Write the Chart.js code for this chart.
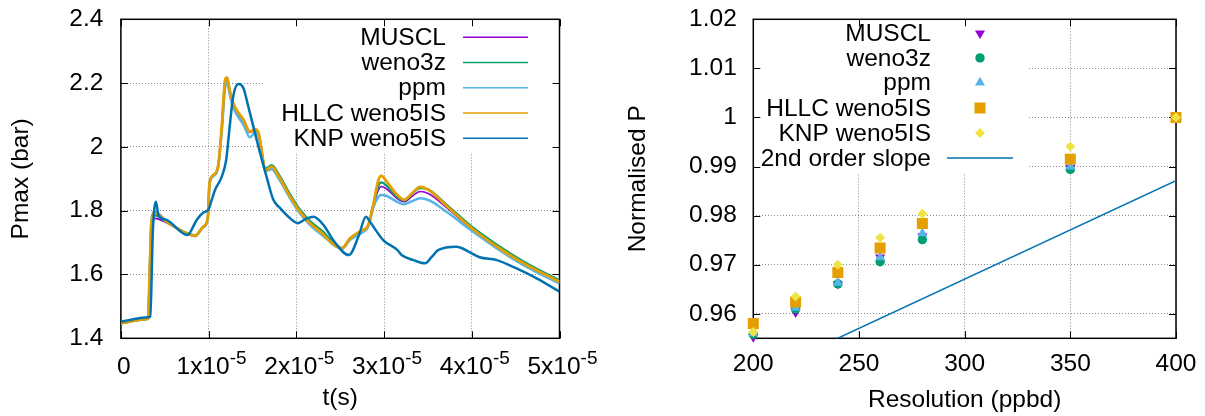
<!DOCTYPE html>
<html><head><meta charset="utf-8">
<script src="https://cdn.jsdelivr.net/npm/chart.js@4/dist/chart.umd.min.js"></script>
<style>
html,body{margin:0;padding:0;background:#fff;width:1205px;height:416px;overflow:hidden}
canvas{position:absolute;top:0}
#c1{left:0}
#c2{left:600px}
</style></head><body>
<canvas id="c1" width="600" height="416"></canvas>
<canvas id="c2" width="605" height="416"></canvas>
<script>
// ---------- Left panel data (t in units of 1e-5 s, Pmax in bar) ----------
const seriesNamesL = ['MUSCL', 'weno3z', 'ppm', 'HLLC weno5IS', 'KNP weno5IS'];
const tMain = [0, 0.29, 0.31, 0.33, 0.35, 0.39, 0.52, 0.75, 0.845, 0.94, 0.99, 1.01, 1.055, 1.11, 1.15, 1.19, 1.21, 1.24, 1.28, 1.40, 1.47, 1.53, 1.57, 1.65, 1.72, 1.80, 1.93, 2.04, 2.16, 2.31, 2.38, 2.45, 2.52, 2.61, 2.69, 2.76, 2.82, 2.88, 2.935, 2.97, 3.03, 3.15, 3.23, 3.32, 3.41, 3.51, 3.72, 4.0, 4.29, 4.59, 5.0];
const pMUSCL = [1.447, 1.46, 1.462, 1.62, 1.765, 1.776, 1.762, 1.728, 1.721, 1.75, 1.776, 1.884, 1.91, 1.942, 2.06, 2.205, 2.212, 2.175, 2.134, 2.08, 2.045, 2.052, 2.04, 1.927, 1.936, 1.905, 1.843, 1.796, 1.76, 1.725, 1.705, 1.69, 1.682, 1.712, 1.728, 1.738, 1.752, 1.815, 1.865, 1.876, 1.868, 1.838, 1.828, 1.845, 1.86, 1.853, 1.808, 1.742, 1.685, 1.633, 1.575];
const pWeno3z = [1.447, 1.46, 1.463, 1.625, 1.77, 1.785, 1.764, 1.73, 1.723, 1.75, 1.776, 1.886, 1.912, 1.943, 2.062, 2.21, 2.216, 2.177, 2.136, 2.083, 2.047, 2.054, 2.042, 1.932, 1.943, 1.914, 1.851, 1.804, 1.767, 1.733, 1.712, 1.693, 1.683, 1.712, 1.728, 1.738, 1.754, 1.82, 1.878, 1.889, 1.878, 1.843, 1.832, 1.853, 1.871, 1.866, 1.817, 1.75, 1.693, 1.641, 1.581];
const pPpm = [1.447, 1.46, 1.463, 1.62, 1.775, 1.797, 1.766, 1.729, 1.72, 1.748, 1.772, 1.88, 1.908, 1.938, 2.05, 2.19, 2.203, 2.165, 2.124, 2.068, 2.03, 2.045, 2.033, 1.924, 1.93, 1.9, 1.838, 1.792, 1.754, 1.72, 1.703, 1.688, 1.68, 1.708, 1.722, 1.733, 1.75, 1.812, 1.843, 1.849, 1.846, 1.828, 1.82, 1.83, 1.839, 1.833, 1.795, 1.737, 1.681, 1.629, 1.571];
const pHLLC = [1.447, 1.46, 1.463, 1.625, 1.771, 1.792, 1.766, 1.729, 1.721, 1.75, 1.776, 1.886, 1.912, 1.943, 2.063, 2.212, 2.218, 2.178, 2.137, 2.084, 2.048, 2.055, 2.043, 1.928, 1.938, 1.907, 1.844, 1.797, 1.76, 1.725, 1.705, 1.69, 1.682, 1.713, 1.729, 1.739, 1.755, 1.823, 1.896, 1.909, 1.891, 1.849, 1.834, 1.855, 1.875, 1.865, 1.813, 1.745, 1.687, 1.635, 1.577];
const tKnp = [0, 0.31, 0.335, 0.365, 0.40, 0.427, 0.52, 0.758, 0.864, 0.94, 1.0, 1.035, 1.073, 1.15, 1.20, 1.244, 1.28, 1.34, 1.397, 1.453, 1.548, 1.66, 1.738, 1.815, 1.91, 2.015, 2.12, 2.195, 2.31, 2.42, 2.6, 2.707, 2.794, 2.84, 2.99, 3.15, 3.2, 3.335, 3.467, 3.543, 3.62, 3.825, 3.995, 4.09, 4.285, 4.51, 4.74, 5.0];
const pKNP = [1.452, 1.466, 1.468, 1.74, 1.828, 1.787, 1.771, 1.724, 1.771, 1.794, 1.804, 1.834, 1.865, 1.907, 1.959, 2.074, 2.158, 2.197, 2.184, 2.126, 2.022, 1.907, 1.834, 1.808, 1.781, 1.761, 1.776, 1.781, 1.755, 1.708, 1.661, 1.718, 1.781, 1.765, 1.708, 1.677, 1.661, 1.645, 1.635, 1.655, 1.677, 1.687, 1.667, 1.654, 1.645, 1.619, 1.588, 1.546];
const xTicksL = [0, 1, 2, 3, 4, 5];
const xTickBaseL = ['0', '1x10', '2x10', '3x10', '4x10', '5x10'];
const xTickExpL = ['', '-5', '-5', '-5', '-5', '-5'];
const yTicksL = [1.4, 1.6, 1.8, 2.0, 2.2, 2.4];
const yTickLabelsL = ['1.4', '1.6', '1.8', '2', '2.2', '2.4'];
const xTitleL = 't(s)';
const yTitleL = 'Pmax (bar)';

// ---------- Right panel data ----------
const seriesNamesR = ['MUSCL', 'weno3z', 'ppm', 'HLLC weno5IS', 'KNP weno5IS', '2nd order slope'];
const resolution = [200, 220, 240, 260, 280, 350, 400];
const nMUSCL = [0.9553, 0.9603, 0.9661, 0.9715, 0.9758, 0.9897, 1.0];
const nWeno3z = [0.9558, 0.9610, 0.9661, 0.9706, 0.9751, 0.9894, 1.0];
const nPpm = [0.9560, 0.9612, 0.9663, 0.9715, 0.9764, 0.9900, 1.0];
const nHLLC = [0.9580, 0.9624, 0.9684, 0.9734, 0.9784, 0.9915, 1.0];
const nKNP = [0.9563, 0.9635, 0.9700, 0.9755, 0.9804, 0.9941, 1.0];
const slopeX = [200, 400];
const slopeY = [0.9470, 0.9871];
const xTicksR = [200, 250, 300, 350, 400];
const xTickLabelsR = ['200', '250', '300', '350', '400'];
const yTicksR = [0.96, 0.97, 0.98, 0.99, 1.0, 1.01, 1.02];
const yTickLabelsR = ['0.96', '0.97', '0.98', '0.99', '1', '1.01', '1.02'];
const xTitleR = 'Resolution (ppbd)';
const yTitleR = 'Normalised P';

// ---------- styling ----------
const FONT = "'Liberation Sans', Arial, Helvetica, sans-serif";
const FS = 24.5;
Chart.defaults.font.family = FONT;
Chart.defaults.font.size = FS;
Chart.defaults.color = '#000';
Chart.defaults.animation = false;

const C = {purple: '#9400d3', green: '#009e73', sky: '#56b4e9', orange: '#e69f00', blue: '#0072b2', yellow: '#f0e442'};

function zip(xs, ys) { return xs.map((x, i) => ({x: x, y: ys[i]})); }

const gpPlugin = {
  id: 'gp',
  beforeDatasetsDraw(chart, args, o) {
    const ctx = chart.ctx, ca = chart.chartArea;
    ctx.save();
    // opaque key box hides the grid
    ctx.fillStyle = '#fff';
    const b = o.keyBox;
    ctx.fillRect(b[0], b[1], b[2] - b[0], b[3] - b[1]);
    // border frame
    ctx.strokeStyle = '#000';
    ctx.lineWidth = 1.5;
    ctx.strokeRect(ca.left, ca.top, ca.right - ca.left, ca.bottom - ca.top);
    // inward tick marks on all four sides
    ctx.lineWidth = 1;
    const xs = chart.scales.x, ys = chart.scales.y, L = 7;
    ctx.beginPath();
    xs.ticks.forEach(t => {
      const p = Math.round(xs.getPixelForValue(t.value)) + 0.5;
      ctx.moveTo(p, ca.bottom); ctx.lineTo(p, ca.bottom - L);
      ctx.moveTo(p, ca.top); ctx.lineTo(p, ca.top + L);
    });
    ys.ticks.forEach(t => {
      const p = Math.round(ys.getPixelForValue(t.value)) + 0.5;
      ctx.moveTo(ca.left, p); ctx.lineTo(ca.left + L, p);
      ctx.moveTo(ca.right, p); ctx.lineTo(ca.right - L, p);
    });
    ctx.stroke();
    ctx.restore();
  },
  afterDatasetsDraw(chart, args, o) {
    const ctx = chart.ctx;
    ctx.save();
    // key
    ctx.font = FS + 'px ' + FONT;
    ctx.fillStyle = '#000';
    ctx.textAlign = 'right';
    ctx.textBaseline = 'middle';
    chart.data.datasets.forEach((ds, i) => {
      const y = o.rows[i];
      ctx.fillStyle = '#000';
      ctx.fillText(ds.label, o.textRight, y + 1);
      if (ds.showLine === false) {
        ctx.fillStyle = ds.backgroundColor;
        const opts = {pointStyle: ds.pointStyle, rotation: ds.pointRotation || 0, radius: ds.pointRadius, borderWidth: 0};
        if (Chart.helpers && Chart.helpers.drawPoint) {
          Chart.helpers.drawPoint(ctx, opts, o.symbolX, y);
        }
      } else {
        ctx.strokeStyle = ds.borderColor;
        ctx.lineWidth = o.sampleWidth;
        ctx.beginPath();
        ctx.moveTo(o.sampleX[0], y); ctx.lineTo(o.sampleX[1], y);
        ctx.stroke();
      }
    });
    // custom x tick labels with superscript exponent
    if (o.xBase) {
      const xs = chart.scales.x;
      ctx.fillStyle = '#000';
      ctx.textAlign = 'left';
      ctx.textBaseline = 'alphabetic';
      xs.ticks.forEach((t, i) => {
        const px = xs.getPixelForValue(t.value);
        const base = o.xBase[i], ex = o.xExp[i];
        ctx.font = FS + 'px ' + FONT;
        const wb = ctx.measureText(base).width;
        ctx.font = o.expSize + 'px ' + FONT;
        const we = ex ? ctx.measureText(ex).width : 0;
        const x0 = px - (wb + we) / 2 + 3;
        ctx.font = FS + 'px ' + FONT;
        ctx.fillText(base, x0, o.baseY);
        if (ex) {
          ctx.font = o.expSize + 'px ' + FONT;
          ctx.fillText(ex, x0 + wb, o.baseY - o.expRaise);
        }
      });
    }
    ctx.restore();
  }
};

const grid = {color: '#8a8a8a', lineWidth: 1, drawTicks: false};
const border = {display: false, dash: [1, 2]};

// ---------- Left chart ----------
const lineDs = (label, xs, ys, color, w, order) => ({
  label, data: zip(xs, ys), borderColor: color, backgroundColor: color,
  borderWidth: w, pointRadius: 0, showLine: true, cubicInterpolationMode: 'monotone', order
});

new Chart(document.getElementById('c1'), {
  type: 'scatter',
  data: {datasets: [
    lineDs(seriesNamesL[0], tMain, pMUSCL, C.purple, 1.6, 4),
    lineDs(seriesNamesL[1], tMain, pWeno3z, C.green, 2.2, 3),
    lineDs(seriesNamesL[2], tMain, pPpm, C.sky, 2.5, 2),
    lineDs(seriesNamesL[3], tMain, pHLLC, C.orange, 2.8, 1),
    lineDs(seriesNamesL[4], tKnp, pKNP, C.blue, 2.5, 0)
  ]},
  options: {
    responsive: false, devicePixelRatio: 1, animation: false,
    layout: {padding: {left: 0, top: 19.3, right: 40.5, bottom: 0}},
    plugins: {
      legend: {display: false}, tooltip: {enabled: false},
      gp: {keyBox: [264, 19.3, 559.5, 152], rows: [37.3, 62.5, 87.7, 113, 138.3],
           textRight: 446, sampleX: [463, 528], sampleWidth: 1.6,
           xBase: xTickBaseL, xExp: xTickExpL, expSize: 19, baseY: 374, expRaise: 10.3}
    },
    scales: {
      x: {type: 'linear', min: 0, max: 5,
        afterBuildTicks: s => { s.ticks = xTicksL.map(v => ({value: v})); },
        ticks: {display: false},
        grid: grid, border: border,
        title: {display: true, text: xTitleL, padding: {top: 0, bottom: 3}},
        afterFit: s => { s.height = 416 - 338.3; s.paddingLeft = 0; s.paddingRight = 0; }
      },
      y: {type: 'linear', min: 1.4, max: 2.4,
        afterBuildTicks: s => { s.ticks = yTicksL.map(v => ({value: v})); },
        ticks: {padding: 17.5, callback: (v, i) => yTickLabelsL[i]},
        grid: grid, border: border,
        title: {display: true, text: yTitleL, padding: {top: 6.3, bottom: 0}},
        afterFit: s => { s.width = 120.9; s.paddingTop = 0; s.paddingBottom = 0; }
      }
    }
  },
  plugins: [gpPlugin]
});

// ---------- Right chart ----------
const ptDs = (label, ys, color, style, rot, r, order) => ({
  label, data: zip(resolution, ys), showLine: false, pointStyle: style, pointRotation: rot,
  pointRadius: r, backgroundColor: color, pointBackgroundColor: color, pointBorderWidth: 0, borderWidth: 0,
  clip: false, order
});

new Chart(document.getElementById('c2'), {
  type: 'scatter',
  data: {datasets: [
    ptDs(seriesNamesR[0], nMUSCL, C.purple, 'triangle', 180, 5.8, 5),
    ptDs(seriesNamesR[1], nWeno3z, C.green, 'circle', 0, 4.7, 4),
    ptDs(seriesNamesR[2], nPpm, C.sky, 'triangle', 0, 5.8, 3),
    ptDs(seriesNamesR[3], nHLLC, C.orange, 'rect', 0, 7.8, 2),
    ptDs(seriesNamesR[4], nKNP, C.yellow, 'rectRot', 0, 5, 1),
    {label: seriesNamesR[5], data: zip(slopeX, slopeY), showLine: true, pointRadius: 0,
     borderColor: C.blue, backgroundColor: C.blue, borderWidth: 1.5, order: 0}
  ]},
  options: {
    responsive: false, devicePixelRatio: 1, animation: false,
    layout: {padding: {left: 0, top: 19.3, right: 29, bottom: 0}},
    plugins: {
      legend: {display: false}, tooltip: {enabled: false},
      gp: {keyBox: [153.3, 19.3, 428, 173], rows: [33.3, 57.9, 82.5, 108, 133, 158],
           textRight: 331, symbolX: 380, sampleX: [347, 413], sampleWidth: 1.5}
    },
    scales: {
      x: {type: 'linear', min: 200, max: 400,
        afterBuildTicks: s => { s.ticks = xTicksR.map(v => ({value: v})); },
        ticks: {padding: 11.5, autoSkip: false, maxRotation: 0, callback: (v, i) => xTickLabelsR[i]},
        grid: grid, border: border,
        title: {display: true, text: xTitleR, padding: {top: 0, bottom: 1}},
        afterFit: s => { s.height = 416 - 338.3; s.paddingLeft = 0; s.paddingRight = 0; }
      },
      y: {type: 'linear', min: 0.955, max: 1.02,
        afterBuildTicks: s => { s.ticks = yTicksR.map(v => ({value: v})); },
        ticks: {padding: 16.5, callback: (v, i) => yTickLabelsR[i]},
        grid: grid, border: border,
        title: {display: true, text: yTitleR, padding: {top: 24, bottom: 0}},
        afterFit: s => { s.width = 153.3; s.paddingTop = 0; s.paddingBottom = 0; }
      }
    }
  },
  plugins: [gpPlugin]
});
</script>
</body></html>
